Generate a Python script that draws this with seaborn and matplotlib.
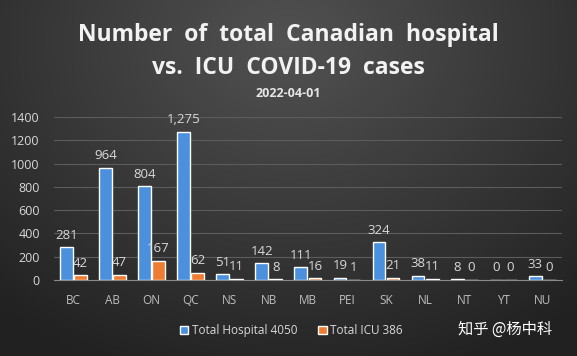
import numpy as np
import pandas as pd
import seaborn as sns
import matplotlib.pyplot as plt

# Data (2022-04-01)
provinces = ['BC', 'AB', 'ON', 'QC', 'NS', 'NB', 'MB', 'PEI', 'SK', 'NL', 'NT', 'YT', 'NU']
hospital = [281, 964, 804, 1275, 51, 142, 111, 19, 324, 38, 8, 0, 33]
icu = [42, 47, 167, 62, 11, 8, 16, 1, 21, 11, 0, 0, 0]
series_names = ['Total Hospital 4050', 'Total ICU 386']
y_ticks = [0, 200, 400, 600, 800, 1000, 1200, 1400]

df = pd.DataFrame({
    'prov': provinces * 2,
    'count': hospital + icu,
    'series': [series_names[0]] * len(provinces) + [series_names[1]] * len(provinces),
})

sns.set_style("dark")
plt.rcParams['font.family'] = ['Open Sans', 'DejaVu Sans']

fig = plt.figure(figsize=(5.77, 3.56), dpi=100)

# dark radial gradient background
bg = fig.add_axes([0, 0, 1, 1], zorder=-10)
yy, xx = np.mgrid[0:1:356j, 0:1:577j]
r = np.sqrt(((xx - 0.5) / 0.85) ** 2 + ((yy - 0.12) / 1.1) ** 2)
shade = np.clip(0.32 - 0.21 * r, 0.13, 0.32)
bg.imshow(np.dstack([shade] * 3), aspect='auto', extent=[0, 1, 1, 0])
bg.axis('off')

ax = fig.add_axes([0.093, 0.2135, 0.881, 0.4575])
ax.set_facecolor('none')

sns.barplot(data=df, x='prov', y='count', hue='series',
            palette=['#4a90dc', '#ee7d31'], width=0.72, gap=0.1,
            saturation=1, ax=ax, zorder=3)

for c in ax.containers:
    ax.bar_label(c, fmt='{:,.0f}', padding=4, color='#d9d9d9', fontsize=9.5)

ax.set_ylim(0, 1400)
ax.set_yticks(y_ticks)
ax.set_xlim(-0.5, len(provinces) - 0.5)
ax.set_xlabel('')
ax.set_ylabel('')
ax.yaxis.grid(True, color='#5c5c5c', linewidth=0.8)
ax.xaxis.grid(False)
for s in ['top', 'right', 'left']:
    ax.spines[s].set_visible(False)
ax.spines['bottom'].set_color('#8a8a8a')
ax.tick_params(axis='y', colors='#d9d9d9', labelsize=9, length=0, pad=10)
ax.tick_params(axis='x', colors='#bfbfbf', labelsize=8.5, length=0, pad=10)

handles, labels = ax.get_legend_handles_labels()
ax.get_legend().remove()
fig.legend(handles, labels, loc='center', bbox_to_anchor=(0.505, 0.072),
           ncol=2, frameon=False, fontsize=8.5, labelcolor='#d9d9d9',
           handlelength=0.7, handleheight=0.7, handletextpad=0.3, columnspacing=1.8)

fig.text(0.5, 0.903, 'Number  of  total  Canadian  hospital', ha='center', va='center',
         color='#f2f2f2', fontsize=16.5, fontweight='bold')
fig.text(0.5, 0.81, 'vs.  ICU  COVID-19  cases', ha='center', va='center',
         color='#f2f2f2', fontsize=16.5, fontweight='bold')
fig.text(0.5, 0.738, '2022-04-01', ha='center', va='center',
         color='#e6e6e6', fontsize=9, fontweight='bold')

fig.text(0.875, 0.075, '知乎 @杨中科', ha='center', va='center', color='white',
         fontsize=11, family=['Noto Sans CJK SC', 'DejaVu Sans'])

fig.savefig('out.png', dpi=100)
plt.close(fig)
